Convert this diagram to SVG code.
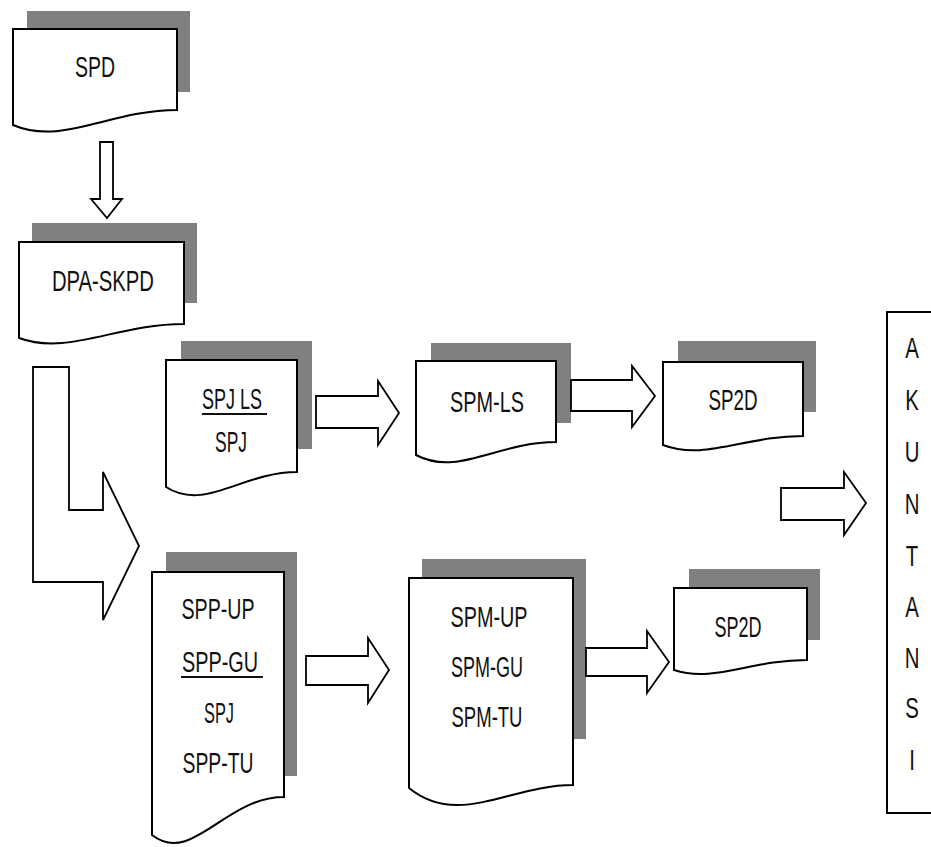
<svg xmlns="http://www.w3.org/2000/svg" width="931" height="847" viewBox="0 0 931 847">
<style>
.sh{fill:#808080;stroke:none}
.doc{fill:#fff;stroke:#000;stroke-width:2;stroke-linejoin:miter}
.arr{fill:#fff;stroke:#000;stroke-width:1.8;stroke-linejoin:miter}
.t{font-family:"Liberation Sans",Arial,sans-serif;font-size:30px;fill:#111;text-anchor:middle}
.ul{stroke:#111;stroke-width:2}
</style>
<rect width="931" height="847" fill="#fff"/>
<g id="spd">
<rect class="sh" x="27" y="11" width="163" height="81"/>
<path class="doc" d="M13,29 H177 V110 C110,110 62,146 13,125 Z"/>
<text class="t" x="95" y="77" textLength="40" lengthAdjust="spacingAndGlyphs">SPD</text>
</g>
<g id="dpa-skpd">
<rect class="sh" x="32" y="223" width="165" height="80"/>
<path class="doc" d="M19,242 H184 V324 C116,324 68,356 19,338 Z"/>
<text class="t" x="103" y="291" textLength="102" lengthAdjust="spacingAndGlyphs">DPA-SKPD</text>
</g>
<g id="spj-ls">
<rect class="sh" x="181" y="341" width="131" height="108"/>
<path class="doc" d="M166,360 H297 V472 C242,472 205,512 166,487 Z"/>
<text class="t" x="232" y="409" textLength="60" lengthAdjust="spacingAndGlyphs">SPJ LS</text>
<line class="ul" x1="202" y1="414" x2="267" y2="414"/>
<text class="t" x="231" y="452" textLength="32" lengthAdjust="spacingAndGlyphs">SPJ</text>
</g>
<g id="spm-ls">
<rect class="sh" x="431" y="343" width="140" height="80"/>
<path class="doc" d="M416,361 H556 V442 C497,442 458,477 416,455 Z"/>
<text class="t" x="487" y="412" textLength="74" lengthAdjust="spacingAndGlyphs">SPM-LS</text>
</g>
<g id="sp2d-top">
<rect class="sh" x="678" y="341" width="138" height="71"/>
<path class="doc" d="M663,362 H803 V436 C744,436 705,461 663,445 Z"/>
<text class="t" x="733" y="410" textLength="49" lengthAdjust="spacingAndGlyphs">SP2D</text>
</g>
<g id="spp">
<rect class="sh" x="166" y="552" width="131" height="224"/>
<path class="doc" d="M152,572 H284 V797 C225,797 192,866 152,835 Z"/>
<text class="t" x="218" y="619" textLength="73" lengthAdjust="spacingAndGlyphs">SPP-UP</text>
<text class="t" x="220" y="672" textLength="76" lengthAdjust="spacingAndGlyphs">SPP-GU</text>
<line class="ul" x1="181" y1="677" x2="263" y2="677"/>
<text class="t" x="219" y="723" textLength="30" lengthAdjust="spacingAndGlyphs">SPJ</text>
<text class="t" x="218" y="773" textLength="71" lengthAdjust="spacingAndGlyphs">SPP-TU</text>
</g>
<g id="spm">
<rect class="sh" x="422" y="559" width="164" height="180"/>
<path class="doc" d="M409,578 H573 V785 C510,785 458,828 409,788 Z"/>
<text class="t" x="489" y="627" textLength="77" lengthAdjust="spacingAndGlyphs">SPM-UP</text>
<text class="t" x="487" y="677" textLength="72" lengthAdjust="spacingAndGlyphs">SPM-GU</text>
<text class="t" x="487" y="727" textLength="71" lengthAdjust="spacingAndGlyphs">SPM-TU</text>
</g>
<g id="sp2d-bottom">
<rect class="sh" x="689" y="569" width="131" height="71"/>
<path class="doc" d="M674,588 H807 V660 C750,660 714,683 674,670 Z"/>
<text class="t" x="738" y="637" textLength="47" lengthAdjust="spacingAndGlyphs">SP2D</text>
</g>
<g id="akuntansi">
<rect class="doc" x="887" y="312" width="60" height="501"/>
<g transform="translate(912,0) scale(0.68,1)">
<text class="t" x="0" y="358">A</text>
<text class="t" x="0" y="410">K</text>
<text class="t" x="0" y="462">U</text>
<text class="t" x="0" y="514">N</text>
<text class="t" x="0" y="566">T</text>
<text class="t" x="0" y="617">A</text>
<text class="t" x="0" y="668">N</text>
<text class="t" x="0" y="718">S</text>
<text class="t" x="0" y="770">I</text>
</g>
</g>
<g id="connectors">
<path class="arr" d="M100,142 H113 V199 H122 L107,218 L91,199 H100 Z"/>
<path class="arr" d="M33,367 H69 V510 H103 V472 L139,546 L103,620 V582 H33 Z"/>
<path class="arr" d="M316,396 H378 V381 L399,413 L378,445 V428 H316 Z"/>
<path class="arr" d="M571,380 H632 V366 L655,396 L632,427 V411 H571 Z"/>
<path class="arr" d="M306,656 H368 V638 L389,670 L368,703 V685 H306 Z"/>
<path class="arr" d="M586,648 H647 V631 L669,662 L647,693 V676 H586 Z"/>
<path class="arr" d="M781,488 H844 V472 L866,503 L844,535 V520 H781 Z"/>
</g>
</svg>
